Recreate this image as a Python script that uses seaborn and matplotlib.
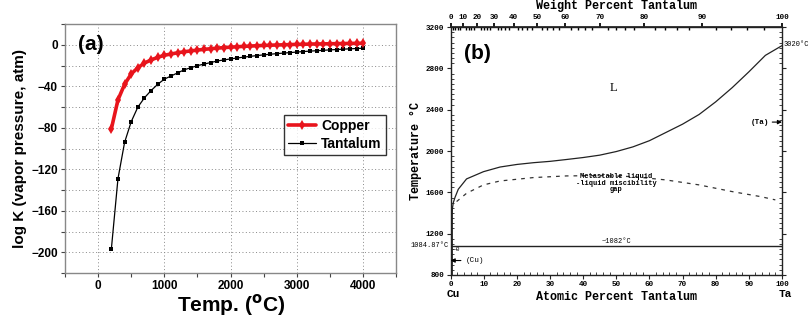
import numpy as np
import pandas as pd
import matplotlib
matplotlib.use("Agg")
import matplotlib.pyplot as plt
from matplotlib.ticker import MultipleLocator, FixedLocator
import seaborn as sns

# ---------------- data: panel (a) ----------------
temps = list(range(200, 4001, 100))
copper = [-81, -53, -38, -28, -22, -17.5, -14.5, -12, -10, -8.8, -7.6, -6.6, -5.8,
          -5.0, -4.3, -3.7, -3.1, -2.6, -2.2, -1.8, -1.4, -1.1, -0.8, -0.5, -0.3,
          -0.1, 0.1, 0.3, 0.5, 0.6, 0.8, 0.9, 1.0, 1.1, 1.2, 1.3, 1.4, 1.5, 1.6]
tantalum = [-197, -129, -94, -74, -60, -51, -44, -38, -33, -30, -27, -24, -22,
            -20, -18.5, -17, -15.5, -14.5, -13.5, -12.6, -11.8, -11, -10.3, -9.6,
            -9.0, -8.4, -7.9, -7.4, -6.9, -6.4, -6.0, -5.6, -5.2, -4.8, -4.5,
            -4.1, -3.8, -3.5, -3.2]

# ---------------- data: panel (b) ----------------
liq_at = [0, 0.3, 0.8, 1.3, 2.3, 4.8, 9.9, 14.9, 20, 25, 30, 35, 40, 45, 50, 55,
          60, 65, 70, 75, 80, 85, 90, 95, 100]
liq_T = [1085, 1400, 1500, 1550, 1630, 1730, 1800, 1845, 1870, 1887, 1900, 1918,
         1937, 1960, 1995, 2040, 2100, 2180, 2260, 2354, 2476, 2614, 2766, 2926, 3020]
gap_at = [1.8, 4.8, 9.9, 14.9, 25, 35, 45, 55, 65, 75, 85, 93.5, 98]
gap_T = [1511, 1591, 1672, 1710, 1743, 1759, 1762, 1752, 1720, 1672, 1607, 1559, 1527]
eut_T = 1082
wt_ticks = [0, 10, 20, 30, 40, 50, 60, 70, 80, 90, 100]
M_CU, M_TA = 63.546, 180.948

sns.set_theme(style="white")
plt.rcParams['font.family'] = ['Liberation Sans', 'DejaVu Sans']
plt.rcParams.update({"text.color": "black", "axes.labelcolor": "black",
                     "xtick.color": "black", "ytick.color": "black"})

fig = plt.figure(figsize=(8.12, 3.22), dpi=100)

# ================= panel (a) =================
axA = fig.add_axes([0.080, 0.152, 0.408, 0.773])
dfa = pd.DataFrame({"T": temps * 2, "v": copper + tantalum,
                    "s": ["Copper"] * len(temps) + ["Tantalum"] * len(temps)})
sns.lineplot(data=dfa[dfa.s == "Copper"], x="T", y="v", ax=axA, color="#e8141c",
             lw=2.6, marker="d", markersize=5, markeredgewidth=0,
             label="Copper", zorder=4)
sns.lineplot(data=dfa[dfa.s == "Tantalum"], x="T", y="v", ax=axA, color="black",
             lw=0.9, marker="s", markersize=3.2, markeredgewidth=0,
             label="Tantalum", zorder=3)
axA.set_xlim(-500, 4500)
axA.set_ylim(-220, 20)
axA.xaxis.set_major_locator(MultipleLocator(1000))
axA.xaxis.set_minor_locator(MultipleLocator(500))
axA.yaxis.set_major_locator(MultipleLocator(40))
axA.yaxis.set_minor_locator(MultipleLocator(20))
axA.grid(True, which="major", axis="x", ls=(0, (1, 2.5)), color="#888888", lw=0.7)
axA.grid(True, which="both", axis="y", ls=(0, (1, 2.5)), color="#888888", lw=0.7)
axA.tick_params(axis="both", which="both", direction="out", length=3, width=0.8,
                color="#444444", bottom=True, left=True, pad=2)
for lab in axA.get_xticklabels() + axA.get_yticklabels():
    lab.set_fontweight("bold")
    lab.set_fontsize(8.5)
for sp in axA.spines.values():
    sp.set_color("#888888")
    sp.set_linewidth(1.0)
axA.set_xlabel("Temp. ($\\mathbf{^{o}}$C)", fontsize=15, fontweight="bold", labelpad=0)
axA.set_ylabel("log K (vapor pressure, atm)", fontsize=11, fontweight="bold", labelpad=3)
axA.text(0.04, 0.955, "(a)", transform=axA.transAxes, fontsize=15,
         fontweight="bold", va="top", ha="left")
leg = axA.legend(loc="center right", bbox_to_anchor=(0.99, 0.555), frameon=True,
                 fancybox=False, edgecolor="black",
                 handlelength=2.0, borderpad=0.3, labelspacing=0.3,
                 handletextpad=0.4, prop={"weight": "bold", "size": 10})
leg.get_frame().set_linewidth(1.0)

# ================= panel (b) =================
mono = ["Liberation Mono", "DejaVu Sans Mono"]
axB = fig.add_axes([0.555, 0.146, 0.408, 0.770])
sns.lineplot(x=liq_at, y=liq_T, ax=axB, color="#222222", lw=0.9, sort=False)
sns.lineplot(x=gap_at, y=gap_T, ax=axB, color="#333333", lw=0.9,
             ls=(0, (3, 4)), sort=False)
axB.axhline(eut_T, color="#222222", lw=1.0)
axB.plot([0, 0], [800, 1450], color="#222222", lw=2.0)
axB.set_xlim(0, 100)
axB.set_ylim(800, 3200)
axB.xaxis.set_major_locator(MultipleLocator(10))
axB.xaxis.set_minor_locator(MultipleLocator(2))
axB.yaxis.set_major_locator(MultipleLocator(400))
axB.yaxis.set_minor_locator(MultipleLocator(50))
axB.tick_params(axis="both", which="major", direction="out", length=3, width=0.8,
                labelsize=5.5, color="#222222", bottom=True, left=True, right=True,
                pad=1.5)
axB.tick_params(axis="both", which="minor", direction="in", length=2, width=0.6,
                color="#222222", bottom=True, left=True, right=True)
for lab in axB.get_xticklabels() + axB.get_yticklabels():
    lab.set_family(mono)
    lab.set_fontweight("bold")
for sp in axB.spines.values():
    sp.set_color("#222222")
    sp.set_linewidth(1.0)
axB.set_xlabel("Atomic Percent Tantalum", family=mono, fontsize=8.5,
               fontweight="bold", labelpad=2)
axB.set_ylabel("Temperature °C", family=mono, fontsize=8.5, fontweight="bold",
               labelpad=3)


def wt2at(w):
    w = np.asarray(w, dtype=float)
    a = w / M_TA
    b = (100 - w) / M_CU
    return 100 * a / np.where(a + b == 0, 1, a + b)


top = axB.secondary_xaxis("top")
top.xaxis.set_major_locator(FixedLocator(wt2at(wt_ticks)))
top.xaxis.set_ticklabels([str(t) for t in wt_ticks])
top.xaxis.set_minor_locator(FixedLocator(wt2at(np.arange(0, 100, 2))))
top.tick_params(which="major", direction="out", length=3, labelsize=5.5, pad=1)
top.tick_params(which="minor", direction="in", length=2)
for lab in top.get_xticklabels():
    lab.set_family(mono)
    lab.set_fontweight("bold")
top.set_xlabel("Weight Percent Tantalum", family=mono, fontsize=8.5,
               fontweight="bold", labelpad=4)

axB.text(0.04, 0.93, "(b)", transform=axB.transAxes, fontsize=15,
         fontweight="bold", va="top", ha="left")
axB.text(49, 2580, "L", family=["Liberation Serif"], fontsize=9, ha="center")
axB.text(50, 1690, "Metastable liquid\n-liquid miscibility\ngap", family=mono,
         fontsize=5, fontweight="bold", ha="center", va="center", linespacing=0.9)
axB.text(50, 1092, "~1082°C", family=mono, fontsize=5, ha="center", va="bottom")
axB.text(100.6, 3030, "3020°C", family=mono, fontsize=5, ha="left", va="center")
axB.annotate("(Ta)", xy=(100, 2280), xytext=(90.5, 2280), family=mono, fontsize=5.5,
             fontweight="bold", ha="left", va="center",
             arrowprops=dict(arrowstyle="-|>", color="black", lw=0.8,
                             shrinkA=0, shrinkB=0, mutation_scale=6))
axB.annotate("(Cu)", xy=(0, 940), xytext=(4.5, 940), family=mono, fontsize=5.5,
             ha="left", va="center",
             arrowprops=dict(arrowstyle="-|>", color="black", lw=0.8,
                             shrinkA=1, shrinkB=0, mutation_scale=6))
axB.text(0.5, 1050, "~0", family=mono, fontsize=4.5, ha="left", va="center")
axB.text(-0.5, 1090, "1084.87°C", family=mono, fontsize=5, ha="right", va="center")
axB.text(0.8, 620, "Cu", family=mono, fontsize=8, fontweight="bold", ha="center", va="center")
axB.text(101, 620, "Ta", family=mono, fontsize=8, fontweight="bold", ha="center", va="center")

fig.savefig("out.png", dpi=100)
